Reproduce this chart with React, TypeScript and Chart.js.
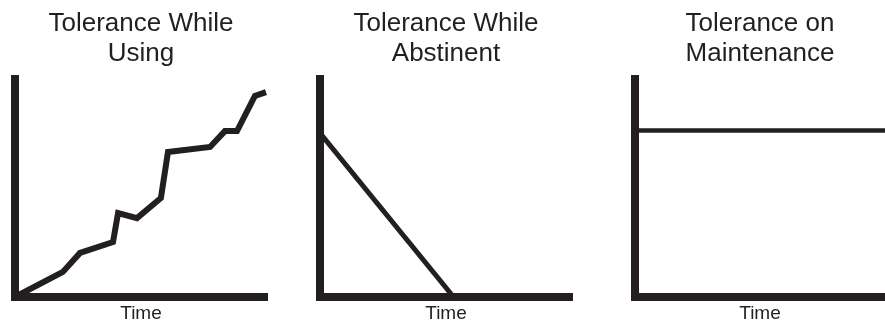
import React, { useEffect, useRef } from 'react';
import { Chart, registerables } from 'chart.js';

Chart.register(...registerables);

const INK = '#231f20';
const FONT = "'Liberation Sans', Arial, Helvetica, sans-serif";

const axisTitle = 'Time';

const usingTitle = ['Tolerance While', 'Using'];
const usingX = [0, 19.0, 25.8, 38.9, 40.9, 48.4, 57.9, 60.7, 77.4, 83.3, 88.1, 95.2, 99.6];
const usingY = [0, 11.5, 20.2, 25.2, 38.5, 36.2, 45.4, 66.5, 68.8, 76.1, 76.1, 92.2, 94.0];

const abstinentTitle = ['Tolerance While', 'Abstinent'];
const abstinentX = [0, 53];
const abstinentY = [75.2, 0];

const maintenanceTitle = ['Tolerance on', 'Maintenance'];
const maintenanceX = [0, 100];
const maintenanceY = [76.4, 76.4];

type PanelProps = {
  title: string[];
  xs: number[];
  ys: number[];
  lineWidth: number;
  left: number;
  width: number;
  padLeft: number;
  padRight: number;
};

function Panel({ title, xs, ys, lineWidth, left, width, padLeft, padRight }: PanelProps) {
  const ref = useRef<HTMLCanvasElement | null>(null);
  useEffect(() => {
    if (!ref.current) return;
    const points = xs.map((x, i) => ({ x, y: ys[i] }));
    const axisCommon = {
      type: 'linear' as const,
      min: 0,
      max: 100,
      grid: { display: false, drawTicks: false },
      ticks: { display: false },
      border: { display: true, width: 8, color: INK },
    };
    const chart = new Chart(ref.current, {
      type: 'line',
      data: {
        datasets: [
          {
            data: points,
            borderColor: INK,
            borderWidth: lineWidth,
            borderJoinStyle: 'miter',
            borderCapStyle: 'butt',
            pointRadius: 0,
            tension: 0,
            fill: false,
          },
        ],
      },
      options: {
        responsive: false,
        animation: false,
        devicePixelRatio: 1,
        layout: { padding: { left: padLeft, right: padRight, top: 0, bottom: 0 } },
        plugins: {
          legend: { display: false },
          tooltip: { enabled: false },
          title: {
            display: true,
            text: title,
            color: INK,
            font: { family: FONT, size: 26, weight: 'normal', lineHeight: '30px' },
            padding: { top: 8.5, bottom: 10.5 },
          },
        },
        scales: {
          x: {
            ...axisCommon,
            title: {
              display: true,
              text: axisTitle,
              color: INK,
              font: { family: FONT, size: 19, weight: 'normal', lineHeight: '18px' },
              padding: { top: 8, bottom: 0 },
            },
          },
          y: { ...axisCommon },
        },
      },
    });
    return () => chart.destroy();
  }, []);
  return (
    <canvas
      ref={ref}
      width={width}
      height={323}
      style={{ position: 'absolute', left, top: 0, width, height: 323 }}
    />
  );
}

export default function App() {
  return (
    <div
      style={{
        position: 'fixed',
        left: 0,
        top: 0,
        width: 885,
        height: 323,
        overflow: 'hidden',
        background: '#ffffff',
      }}
    >
      <Panel title={usingTitle} xs={usingX} ys={usingY} lineWidth={6} left={0} width={290} padLeft={15} padRight={23} />
      <Panel title={abstinentTitle} xs={abstinentX} ys={abstinentY} lineWidth={5} left={295} width={290} padLeft={25} padRight={13} />
      <Panel title={maintenanceTitle} xs={maintenanceX} ys={maintenanceY} lineWidth={4.5} left={600} width={285} padLeft={35} padRight={0} />
    </div>
  );
}
